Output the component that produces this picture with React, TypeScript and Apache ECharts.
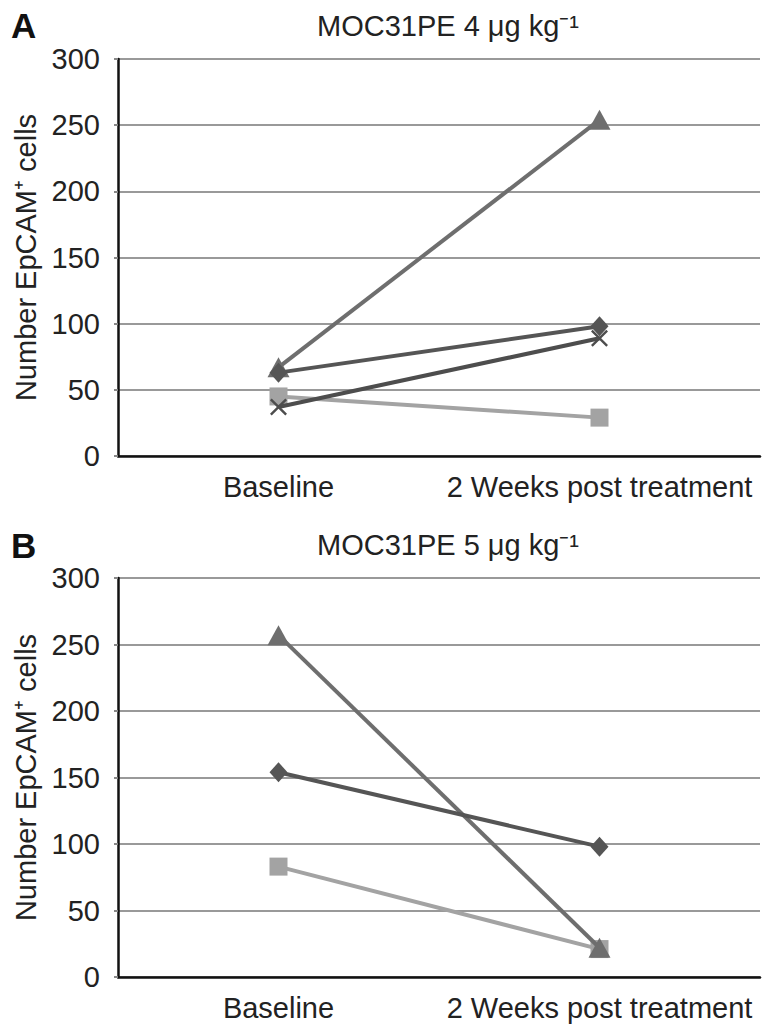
import React, { useEffect, useRef } from "react";
import * as echarts from "echarts";

const categories = ["Baseline", "2 Weeks post treatment"];
const yTicks = [0, 50, 100, 150, 200, 250, 300];

// Panel A: MOC31PE 4 µg/kg
const aTriangle = [67, 254];
const aDiamond = [63, 98];
const aCross = [37, 89];
const aSquare = [45, 29];

// Panel B: MOC31PE 5 µg/kg
const bTriangle = [257, 22];
const bDiamond = [154, 98];
const bSquare = [83, 21];

const titleA = "MOC31PE 4 μg kg⁻¹";
const titleB = "MOC31PE 5 μg kg⁻¹";
const yName = "Number EpCAM⁺ cells";

const FONT = "Liberation Sans, Arial, sans-serif";
const CROSS = "path://M1,0 L5,4 L9,0 L10,1 L6,5 L10,9 L9,10 L5,6 L1,10 L0,9 L4,5 L0,1 Z";

export default function App() {
  const ref = useRef<HTMLDivElement>(null);
  useEffect(() => {
    document.body.style.margin = "0";
    const chart = echarts.init(ref.current!, undefined, { renderer: "svg" });
    const xAxisBase = (gi: number) => ({
      type: "category",
      gridIndex: gi,
      data: categories,
      boundaryGap: true,
      axisLine: { lineStyle: { color: "#111", width: 2.5 } },
      axisTick: { alignWithLabel: true, length: 7, lineStyle: { color: "#111", width: 2 } },
      axisLabel: { color: "#222", fontSize: 29, fontFamily: FONT, margin: 16, interval: 0 },
    });
    const yAxisBase = (gi: number) => ({
      type: "value",
      gridIndex: gi,
      min: 0,
      max: 300,
      interval: 50,
      name: yName,
      nameLocation: "middle",
      nameGap: 77,
      nameTextStyle: { color: "#222", fontSize: 29, fontFamily: FONT },
      axisLine: { show: true, lineStyle: { color: "#111", width: 2.5 } },
      axisTick: { show: true, length: 4, lineStyle: { color: "#888", width: 2 } },
      axisLabel: {
        color: "#222",
        fontSize: 29,
        fontFamily: FONT,
        margin: 18,
        formatter: (v: number) => (yTicks.includes(v) ? String(v) : ""),
      },
      splitLine: { show: true, lineStyle: { color: "#999", width: 2 } },
    });
    const line = (
      data: number[],
      gi: number,
      color: string,
      symbol: string,
      size: number | number[],
      z = 2
    ) => ({
      type: "line",
      xAxisIndex: gi,
      yAxisIndex: gi,
      data,
      symbol,
      symbolSize: size,
      z,
      lineStyle: { color, width: 4 },
      itemStyle: { color, borderWidth: 0 },
    });
    chart.setOption({
      animation: false,
      backgroundColor: "#fff",
      title: [
        { text: titleA, left: 443, top: 6, textAlign: "center", textStyle: { fontSize: 29, fontWeight: "normal", color: "#222", fontFamily: FONT } },
        { text: titleB, left: 443, top: 525, textAlign: "center", textStyle: { fontSize: 29, fontWeight: "normal", color: "#222", fontFamily: FONT } },
      ],
      graphic: [
        { type: "text", left: 11, top: 8, style: { text: "A", fontSize: 35, fontWeight: "bold", fill: "#111", fontFamily: FONT } },
        { type: "text", left: 11, top: 528, style: { text: "B", fontSize: 35, fontWeight: "bold", fill: "#111", fontFamily: FONT } },
      ],
      grid: [
        { left: 118, top: 59, height: 397, right: 8 },
        { left: 118, top: 578, height: 399, right: 8 },
      ],
      xAxis: [xAxisBase(0), xAxisBase(1)],
      yAxis: [yAxisBase(0), yAxisBase(1)],
      series: [
        line(aSquare, 0, "#a3a3a3", "rect", 18, 2),
        line(aCross, 0, "#4d4d4d", CROSS, 17, 3),
        line(aTriangle, 0, "#6e6e6e", "triangle", [22, 20], 4),
        line(aDiamond, 0, "#555555", "diamond", [18, 20], 5),
        line(bSquare, 1, "#a3a3a3", "rect", 18, 2),
        line(bTriangle, 1, "#6e6e6e", "triangle", [22, 20], 4),
        line(bDiamond, 1, "#555555", "diamond", [18, 20], 5),
      ],
    });
    return () => chart.dispose();
  }, []);
  return <div ref={ref} style={{ width: 768, height: 1025 }} />;
}
